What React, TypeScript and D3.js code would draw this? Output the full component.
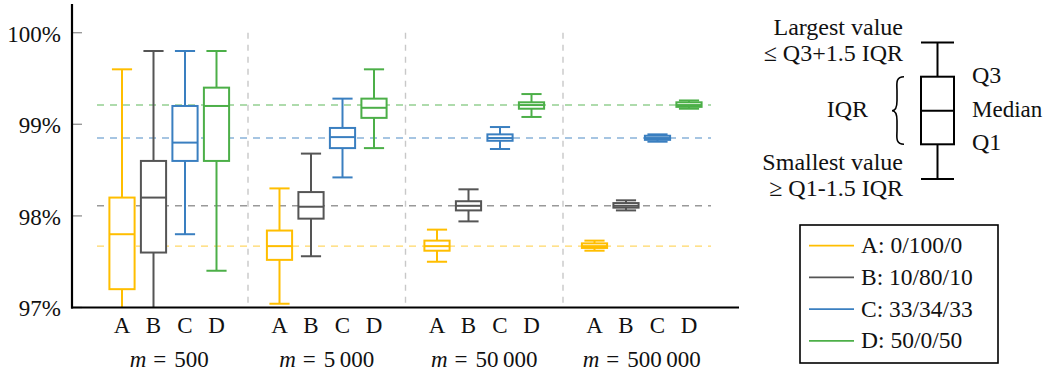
import React from 'react'
import * as d3 from 'd3'

// sample sizes (groups) and mixture configurations
const groups = ['500', '5\u2009000', '50\u2009000', '500\u2009000']
const configs = ['A', 'B', 'C', 'D']
const legendLabels = ['A: 0/100/0', 'B: 10/80/10', 'C: 33/34/33', 'D: 50/0/50']
const colors = ['#FFBE00', '#555555', '#3A7FC0', '#4CAF48']

// [low whisker, Q1, median, Q3, high whisker] per group, one array per config
const statsA = [
  [96.9, 97.2, 97.8, 98.2, 99.6],
  [97.04, 97.52, 97.67, 97.84, 98.3],
  [97.5, 97.62, 97.67, 97.73, 97.85],
  [97.62, 97.65, 97.67, 97.7, 97.73],
]
const statsB = [
  [96.8, 97.6, 98.2, 98.6, 99.8],
  [97.56, 97.97, 98.1, 98.26, 98.68],
  [97.94, 98.06, 98.11, 98.16, 98.29],
  [98.06, 98.09, 98.11, 98.14, 98.17],
]
const statsC = [
  [97.8, 98.6, 98.8, 99.2, 99.8],
  [98.42, 98.74, 98.86, 98.96, 99.28],
  [98.73, 98.82, 98.85, 98.89, 98.97],
  [98.81, 98.83, 98.85, 98.875, 98.89],
]
const statsD = [
  [97.4, 98.6, 99.2, 99.4, 99.8],
  [98.74, 99.07, 99.18, 99.28, 99.6],
  [99.08, 99.17, 99.21, 99.24, 99.33],
  [99.17, 99.19, 99.21, 99.24, 99.26],
]
const allStats = [statsA, statsB, statsC, statsD]

// reference (population) values per config
const refValues = [97.67, 98.11, 98.85, 99.21]
const yTicks = [97, 98, 99, 100]

const serif = { fontFamily: '"Liberation Serif"' }

export default function App() {
  const width = 1045
  const height = 376
  const axisX = 72
  const axisRight = 739

  const y = d3.scaleLinear().domain([97, 100.3]).range([307.5, 5.2])
  const xGroup = d3.scaleBand().domain(groups).range([90.5, 720.5]).padding(0)
  const xInner = d3
    .scaleBand()
    .domain(configs)
    .range([0, xGroup.bandwidth()])
    .paddingInner(0)
    .paddingOuter(0.5)

  const cx = (g: string, c: string) => xGroup(g)! + xInner(c)! + xInner.bandwidth() / 2
  const boxW = xInner.bandwidth() * 0.8
  const capW = xInner.bandwidth() * 0.64

  const refStart = cx(groups[0], 'A') - 25
  const refEnd = cx(groups[3], 'D') + 22

  // key box
  const kx = 937.5
  const kw = 33
  const kTop = 42.5
  const kQ3 = 76.7
  const kMed = 110.7
  const kQ1 = 144.3
  const kBot = 179

  return (
    <svg width={width} height={height} style={{ position: 'absolute', left: 0, top: 0, background: '#fff' }}>
      <defs>
        <clipPath id="plotclip">
          <rect x={axisX} y={0} width={axisRight - axisX} height={y(97)} />
        </clipPath>
      </defs>

      {/* group separators */}
      {groups.slice(1).map((g) => (
        <line
          key={g}
          x1={xGroup(g)!}
          x2={xGroup(g)!}
          y1={y(100)}
          y2={y(97)}
          stroke="#c8c8c8"
          strokeWidth={1.4}
          strokeDasharray="6,6"
        />
      ))}

      {/* reference lines */}
      {refValues.map((v, i) => (
        <line
          key={i}
          x1={refStart}
          x2={refEnd}
          y1={y(v)}
          y2={y(v)}
          stroke={colors[i]}
          strokeOpacity={0.6}
          strokeWidth={1.4}
          strokeDasharray="7,6"
        />
      ))}

      {/* boxes */}
      <g clipPath="url(#plotclip)">
        {allStats.map((stats, ci) =>
          stats.map((s, gi) => {
            const x = cx(groups[gi], configs[ci])
            const [lo, q1, med, q3, hi] = s
            return (
              <g key={ci + '-' + gi} stroke={colors[ci]} strokeWidth={2} fill="none">
                <line x1={x} x2={x} y1={y(hi)} y2={y(lo)} />
                <line x1={x - capW / 2} x2={x + capW / 2} y1={y(hi)} y2={y(hi)} />
                <line x1={x - capW / 2} x2={x + capW / 2} y1={y(lo)} y2={y(lo)} />
                <rect x={x - boxW / 2} y={y(q3)} width={boxW} height={y(q1) - y(q3)} fill="#fff" />
                <line x1={x - boxW / 2} x2={x + boxW / 2} y1={y(med)} y2={y(med)} />
              </g>
            )
          })
        )}
      </g>

      {/* y ticks */}
      {yTicks.map((t) => (
        <g key={t}>
          <line x1={axisX} x2={axisX + 10} y1={y(t)} y2={y(t)} stroke="#999" strokeWidth={1.4} />
          <text x={axisX - 11} y={y(t)} dy="0.39em" textAnchor="end" fontSize={23} fill="#111" style={serif}>
            {t}%
          </text>
        </g>
      ))}

      {/* axes */}
      <line x1={axisX} x2={axisX} y1={4} y2={y(97) + 1} stroke="#000" strokeWidth={2.2} />
      <line x1={axisX - 1} x2={axisRight} y1={y(97)} y2={y(97)} stroke="#000" strokeWidth={2.2} />

      {/* x labels */}
      {groups.map((g) => (
        <g key={g}>
          {configs.map((c) => (
            <text key={c} x={cx(g, c)} y={333} textAnchor="middle" fontSize={23} fill="#111" style={serif}>
              {c}
            </text>
          ))}
          <text
            x={xGroup(g)! + xGroup.bandwidth() / 2}
            y={367}
            textAnchor="middle"
            fontSize={23}
            fill="#111"
            style={serif}
          >
            <tspan fontStyle="italic">m</tspan>
            <tspan dx={7}>=</tspan>
            <tspan dx={8}>{g}</tspan>
          </text>
        </g>
      ))}

      {/* key diagram */}
      <g stroke="#000" strokeWidth={2} fill="none">
        <line x1={kx} x2={kx} y1={kTop} y2={kBot} />
        <line x1={kx - kw / 2} x2={kx + kw / 2} y1={kTop} y2={kTop} />
        <line x1={kx - kw / 2} x2={kx + kw / 2} y1={kBot} y2={kBot} />
        <rect x={kx - kw / 2} y={kQ3} width={kw} height={kQ1 - kQ3} fill="#fff" />
        <line x1={kx - kw / 2} x2={kx + kw / 2} y1={kMed} y2={kMed} />
        <path
          d={`M 904 ${kQ3} C 895 ${kQ3}, 897 ${kQ3 + 8}, 897 ${kQ3 + 14} L 897 ${kMed - 10} C 897 ${kMed - 3}, 895 ${kMed}, 892 ${kMed} C 895 ${kMed}, 897 ${kMed + 3}, 897 ${kMed + 10} L 897 ${kQ1 - 14} C 897 ${kQ1 - 8}, 895 ${kQ1}, 904 ${kQ1}`}
          strokeWidth={1.6}
        />
      </g>
      <g fontSize={24} fill="#111">
        <text x={903} y={35} textAnchor="end" style={serif}>Largest value</text>
        <text x={903} y={61} textAnchor="end" style={serif}>≤ Q3+1.5 IQR</text>
        <text x={903} y={170} textAnchor="end" style={serif}>Smallest value</text>
        <text x={903} y={196} textAnchor="end" style={serif}>≥ Q1-1.5 IQR</text>
        <text x={868} y={117} textAnchor="end" style={serif}>IQR</text>
        <text x={972} y={83} style={serif}>Q3</text>
        <text x={972} y={117} fontSize={23} style={serif}>Median</text>
        <text x={972} y={150} style={serif}>Q1</text>
      </g>

      {/* legend */}
      <rect x={800} y={225} width={198} height={138} fill="#fff" stroke="#000" strokeWidth={1.6} />
      {legendLabels.map((l, i) => {
        const ly = 245.7 + i * 31.7
        return (
          <g key={l}>
            <line x1={809} x2={854} y1={ly} y2={ly} stroke={colors[i]} strokeWidth={1.8} />
            <text x={861} y={ly} dy="0.32em" fontSize={23.5} fill="#111" style={serif}>
              {l}
            </text>
          </g>
        )
      })}
    </svg>
  )
}
